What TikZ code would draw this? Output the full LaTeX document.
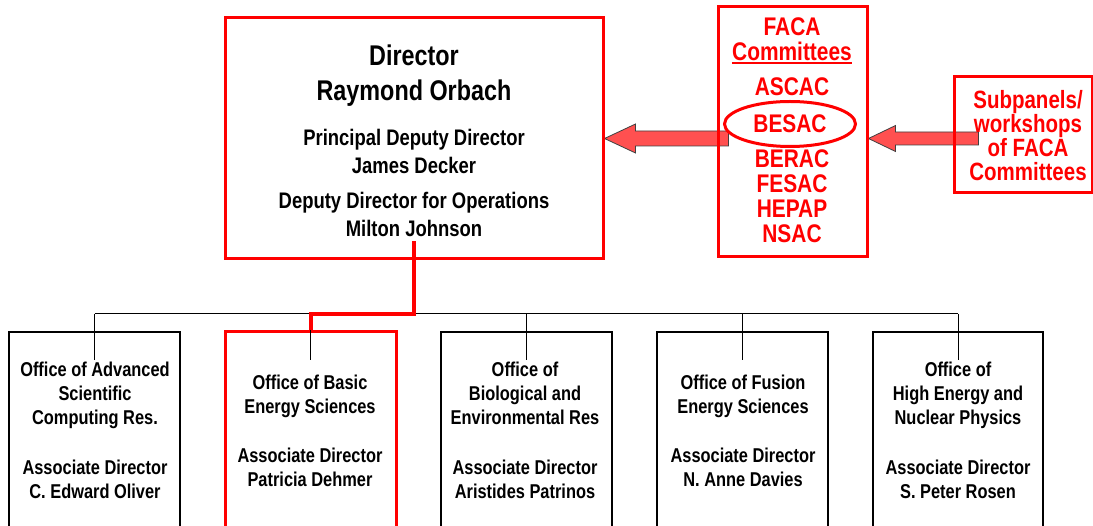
\documentclass[tikz,border=0pt]{standalone}
\usepackage{fontspec}
\setmainfont{Liberation Sans}[FakeStretch=0.82]
\usepackage{tikz}
\usetikzlibrary{positioning,shapes.geometric,backgrounds}
\usepackage{xcolor}
\definecolor{orgred}{RGB}{255,0,0}
\definecolor{arrowred}{RGB}{255,80,80}
\tikzset{
  redbox/.style    = {draw=orgred, line width=3pt, rectangle},
  officebox/.style = {draw, line width=2pt, rectangle,
                      minimum width=171pt, minimum height=220pt},
  txt/.style       = {align=center, inner sep=0pt,
                      font=\bfseries\fontsize{20}{24}\selectfont},
  dirbig/.style    = {txt, font=\bfseries\fontsize{28.5}{35}\selectfont},
  dirsmall/.style  = {txt, font=\bfseries\fontsize{22.5}{28}\selectfont},
  redtxt/.style    = {txt, text=orgred, font=\bfseries\fontsize{25.5}{25}\selectfont},
  tie/.style       = {line width=1pt},
  redtie/.style    = {draw=orgred, line width=4pt},
  fatarrow/.style  = {draw=black!75, line width=0.8pt, fill=arrowred, line join=miter},
}

\begin{document}
\begin{tikzpicture}[x=1pt,y=-1pt]
\useasboundingbox (0,0) rectangle (1093,526);
\clip (0,0) rectangle (1093,526);

% director
\node[redbox,minimum width=378pt,minimum height=241pt] (dirbox) at (414,138.5) {};
\node[dirbig] (dirname) at (414,75.5) {Director\\Raymond Orbach};
\node[dirsmall] (dirdep) at (414,151) {Principal Deputy Director\\James Decker};
\node[dirsmall] (dirops) at (414,214) {Deputy Director for Operations\\Milton Johnson};

% advisory committees
\node[redbox,minimum width=149pt,minimum height=250pt] (facabox) at (792.5,132) {};
\node[redtxt] (facatitle) at (792,39.5) {FACA\\Committees};
\draw[orgred,line width=2pt] ([yshift=-1.5pt]facatitle.south west) -- ([yshift=-1.5pt]facatitle.south east);
\node[redtxt] (ascac) at (792,87) {ASCAC};
\node[redtxt,ellipse,draw=orgred,line width=3pt,minimum width=131pt,minimum height=45pt] (besac) at (790,124) {BESAC};
\node[redtxt] (otherfaca) at (792,196.5) {BERAC\\FESAC\\HEPAP\\NSAC};

\node[redbox,minimum width=138pt,minimum height=116pt] (subbox) at (1023,135) {};
\node[redtxt,font=\bfseries\fontsize{25}{24}\selectfont] (subtext) at (1028,136)
  {Subpanels/\\workshops\\of FACA\\Committees};

% offices
\node[officebox] (ascrbox) at (94.5,442) {};
\node[officebox,draw=orgred,line width=3pt] (besbox) at (310.5,442) {};
\node[officebox] (biobox) at (526.5,442) {};
\node[officebox] (fusbox) at (742.5,442) {};
\node[officebox,minimum width=170pt] (hepbox) at (958,442) {};

\node[txt] (ascrtext) at (95,430.5) {Office of Advanced\\Scientific\\Computing Res.\\[26pt]Associate Director\\C. Edward Oliver};
\node[txt] (bestext) at (310,430.5) {Office of Basic\\Energy Sciences\\[25pt]Associate Director\\Patricia Dehmer};
\node[txt] (biotext) at (525,430.5) {Office of\\Biological and\\Environmental Res\\[26pt]Associate Director\\Aristides Patrinos};
\node[txt] (fustext) at (743,430.5) {Office of Fusion\\Energy Sciences\\[25pt]Associate Director\\N. Anne Davies};
\node[txt] (heptext) at (958,430.5) {Office of\\High Energy and\\Nuclear Physics\\[26pt]Associate Director\\S. Peter Rosen};

% reporting lines
\coordinate (bus) at (0,314);
\draw[tie] (ascrbox.north |- bus) -- (hepbox.north |- bus);
\foreach \o in {ascrbox,besbox,biobox,fusbox,hepbox}
  \draw[tie] (\o.north |- bus) -- ++(0,46);
\draw[redtie] (dirbox.south) ++(0,-19) -- (dirbox.south |- bus) -| (besbox.north);

% advice arrows
\begin{pgfonlayer}{background}
\filldraw[fatarrow] (dirbox.east) -- ++(31,-14.5) -- ++(0,7) -- ++(93,0) -- ++(0,15)
  -- ++(-93,0) -- ++(0,7) -- cycle;
\filldraw[fatarrow] (facabox.east |- dirbox.east) -- ++(27,-13) -- ++(0,6.5) -- ++(83,0)
  -- ++(0,13) -- ++(-83,0) -- ++(0,6.5) -- cycle;
\end{pgfonlayer}
\end{tikzpicture}
\end{document}
